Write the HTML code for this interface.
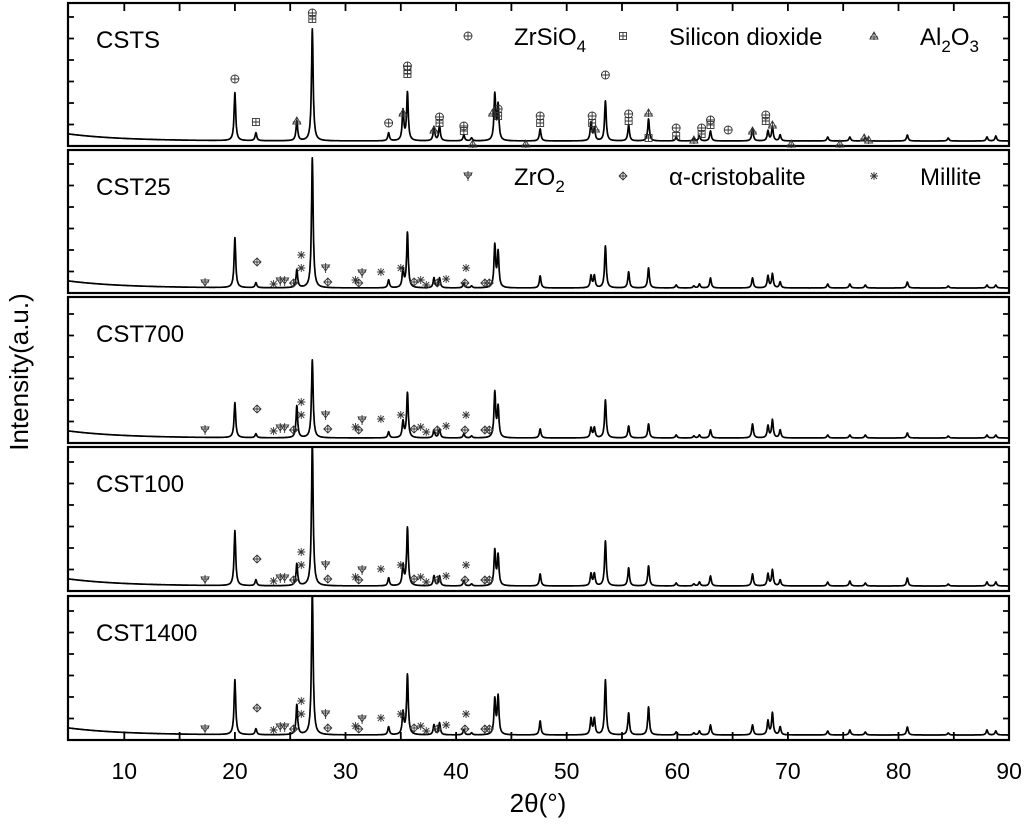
<!DOCTYPE html>
<html><head><meta charset="utf-8"><style>
body{margin:0;background:#fff;}
svg{display:block;font-family:"Liberation Sans",sans-serif;}
</style></head><body>
<svg id="c" width="1024" height="824" viewBox="0 0 1024 824" xmlns="http://www.w3.org/2000/svg"></svg>
<script>
const panelNames = ["CSTS","CST25","CST700","CST100","CST1400"];
const xTicks = [10,20,30,40,50,60,70,80,90];
const peakPos = [20.0,21.9,25.6,27.0,33.9,35.2,35.6,38.0,38.5,40.7,41.4,43.5,43.8,47.6,52.2,52.5,53.5,55.6,57.4,59.9,61.5,62.0,63.0,66.8,68.2,68.6,69.3,73.6,75.6,77.0,80.8,84.5,88.0,88.8];
const heightsCSTS   = [48,8,20,112,8,30,48,14,15,6,3,46,35,12,18,12,40,16,22,4,3,5,10,12,10,14,6,4,4,3,6,3,4,5];
const heightsCST25  = [50,5,18,130,8,18,55,10,10,5,2,42,35,12,12,12,42,16,20,3,2,4,10,10,12,14,6,4,4,3,6,2,3,3];
const heightsCST700 = [35,4,32,78,6,16,45,8,9,4,2,45,30,9,10,10,38,12,14,3,2,3,8,14,12,18,8,3,3,3,5,2,3,3];
const heightsCST100 = [55,6,22,145,8,20,58,10,10,5,2,35,30,12,12,12,45,18,20,3,2,4,10,12,12,16,6,4,5,3,8,2,4,4];
const heightsCST1400= [55,6,30,145,8,22,60,10,12,5,2,35,38,14,16,16,55,22,28,3,2,4,10,10,14,22,8,4,5,3,8,2,5,4];
const allHeights = [heightsCSTS,heightsCST25,heightsCST700,heightsCST100,heightsCST1400];
const topMarkPos  = [20.0,21.9,25.6,27.0,27.0,33.9,35.2,35.6,35.6,35.6,38.0,38.5,38.5,40.7,40.7,41.5,43.3,43.8,43.8,46.3,47.6,47.6,52.3,52.3,52.6,53.5,55.6,55.6,57.4,57.4,59.9,59.9,61.5,62.2,62.2,63.0,63.0,64.6,66.8,68.0,68.0,68.6,70.3,74.7,76.9,77.3];
const topMarkType = ["z","s","a","z","s","z","a","z","s","s","a","z","s","z","s","a","a","z","s","a","z","s","z","s","a","z","z","s","a","s","z","s","a","z","s","z","s","z","a","z","s","a","a","a","a","a"];
const topMarkY    = [76,119,118,10,16,120,110,63,67,71,127,114,120,123,128,141,110,106,113,141,113,120,113,120,126,72,111,118,110,135,125,133,137,125,131,117,122,127,128,112,118,122,141,141,135,137];
const lowMarkPos  = [17.3,22.0,23.5,24.1,24.5,25.3,26.0,26.0,28.2,28.4,30.9,31.2,31.5,33.2,35.0,36.2,36.8,37.3,38.3,39.1,40.9,40.8,42.6,43.0];
const lowMarkType = ["r","c","m","r","r","c","m","m","r","c","m","c","r","m","m","c","m","m","c","m","m","c","c","c"];
const lowMarkY    = [133,112,134,131,131,133,105,118,118,132,130,133,123,122,118,132,130,135,133,129,118,133,133,133];

const NS="http://www.w3.org/2000/svg";
const svg=document.getElementById('c');
function mk(t,a,p){const e=document.createElementNS(NS,t);for(const k in a)e.setAttribute(k,a[k]);(p||svg).appendChild(e);return e;}
const X0=69, PX=11.06, LEFT=68, RIGHT=1009;
const xs=v=>X0+(v-5)*PX;
const panels=[[3,146],[150,293],[297,443],[447,591],[596,740]];

function marker(type,x,y,g){
  const s="#333", w=0.9;
  if(type==="z"){mk('circle',{cx:x,cy:y,r:4,fill:'none',stroke:s,'stroke-width':w},g);mk('path',{d:`M${x-4} ${y}H${x+4}M${x} ${y-4}V${y+4}`,stroke:s,'stroke-width':w},g);}
  else if(type==="s"){mk('rect',{x:x-3.5,y:y-3.5,width:7,height:7,fill:'none',stroke:s,'stroke-width':w},g);mk('path',{d:`M${x-3.5} ${y}H${x+3.5}M${x} ${y-3.5}V${y+3.5}`,stroke:s,'stroke-width':w},g);}
  else if(type==="a"){mk('path',{d:`M${x-4} ${y+3}L${x} ${y-4}L${x+4} ${y+3}ZM${x} ${y-4}V${y+4}M${x-4} ${y+1}H${x+4}`,fill:'none',stroke:s,'stroke-width':w},g);}
  else if(type==="r"){mk('path',{d:`M${x-4} ${y-3}L${x} ${y+3}L${x+4} ${y-3}ZM${x} ${y-5}V${y+5}M${x-4} ${y-1}H${x+4}`,fill:'none',stroke:s,'stroke-width':w},g);}
  else if(type==="c"){mk('path',{d:`M${x} ${y-4}L${x+4} ${y}L${x} ${y+4}L${x-4} ${y}ZM${x-4} ${y}H${x+4}M${x} ${y-4}V${y+4}`,fill:'none',stroke:s,'stroke-width':w},g);}
  else {mk('path',{d:`M${x-4} ${y}H${x+4}M${x} ${y-4}V${y+4}M${x-3} ${y-3}L${x+3} ${y+3}M${x-3} ${y+3}L${x+3} ${y-3}`,stroke:s,'stroke-width':w},g);}
}

panels.forEach((p,i)=>{
  const [top,bot]=p;
  const g=mk('g',{});
  
  
  const hs=allHeights[i];
  let d="";
  for(let v=5;v<=90.001;v+=0.02){
    let y=5+7*Math.exp(-(v-5)/5);
    for(let k=0;k<peakPos.length;k++){const dv=(v-peakPos[k])/0.09;y+=hs[k]/(1+dv*dv);}
    const yy=Math.max(bot-y,top+1);
    d+=(d?"L":"M")+xs(v).toFixed(1)+" "+yy.toFixed(1);
  }
  const line=mk('path',{d:d,fill:'none',stroke:'#000','stroke-width':1.7,'stroke-linejoin':'round'},g);
  
  
  const fr=mk('rect',{x:LEFT,y:top,width:RIGHT-LEFT,height:bot-top,fill:'none',stroke:'#000','stroke-width':2.2},g);
  
  
  for(let k=1;k<=6;k++){const ty=bot-k*21.5; if(ty<top+4)continue;
    mk('path',{d:`M${LEFT} ${ty}H${LEFT+6}M${RIGHT} ${ty}H${RIGHT-6}`,stroke:'#000','stroke-width':1.8},g);}
  if(i===0){for(let v=10;v<=85;v+=5)mk('path',{d:`M${xs(v)} ${top}V${top+8}`,stroke:'#000','stroke-width':1.8},g);}
  if(i===4){for(let v=10;v<=85;v+=5)mk('path',{d:`M${xs(v)} ${bot}V${bot-8}`,stroke:'#000','stroke-width':1.8},g);}
  const lbl=mk('text',{x:96,y:top+45,'font-size':24,fill:'#000'},g);
  lbl.textContent=panelNames[i];
  
  
  if(i===0){topMarkPos.forEach((v,k)=>marker(topMarkType[k],xs(v),top+topMarkY[k],g));}
  else{lowMarkPos.forEach((v,k)=>marker(lowMarkType[k],xs(v),top+lowMarkY[k],g));}
});

function legend(sym,x,y,html,name){
  const g=mk('g',{});
  
  
  marker(sym,x,y,g);
  const t=mk('text',{x:x+46,y:y+9,'font-size':24,fill:'#000'},g);
  t.innerHTML=html;
}
legend('z',468,36,'ZrSiO<tspan dy="7" font-size="17">4</tspan>','legend-zrsio4');
legend('s',623,36,'Silicon dioxide','legend-silicon-dioxide');
legend('a',874,36,'Al<tspan dy="7" font-size="17">2</tspan><tspan dy="-7">O</tspan><tspan dy="7" font-size="17">3</tspan>','legend-al2o3');
legend('r',468,176,'ZrO<tspan dy="7" font-size="17">2</tspan>','legend-zro2');
legend('c',623,176,'α-cristobalite','legend-cristobalite');
legend('m',874,176,'Millite','legend-millite');

xTicks.forEach(v=>{
  const t=mk('text',{x:xs(v),y:779,'font-size':23,'text-anchor':'middle',fill:'#000'});
  t.textContent=v;
  
  
});
const xt=mk('text',{x:538,y:812,'font-size':26,'text-anchor':'middle',fill:'#000'});
xt.textContent='2θ(°)';


const yt=mk('text',{x:0,y:0,'font-size':26,'text-anchor':'middle',fill:'#000',transform:'translate(28,372) rotate(-90)'});
yt.textContent='Intensity(a.u.)';


</script>
</body></html>
